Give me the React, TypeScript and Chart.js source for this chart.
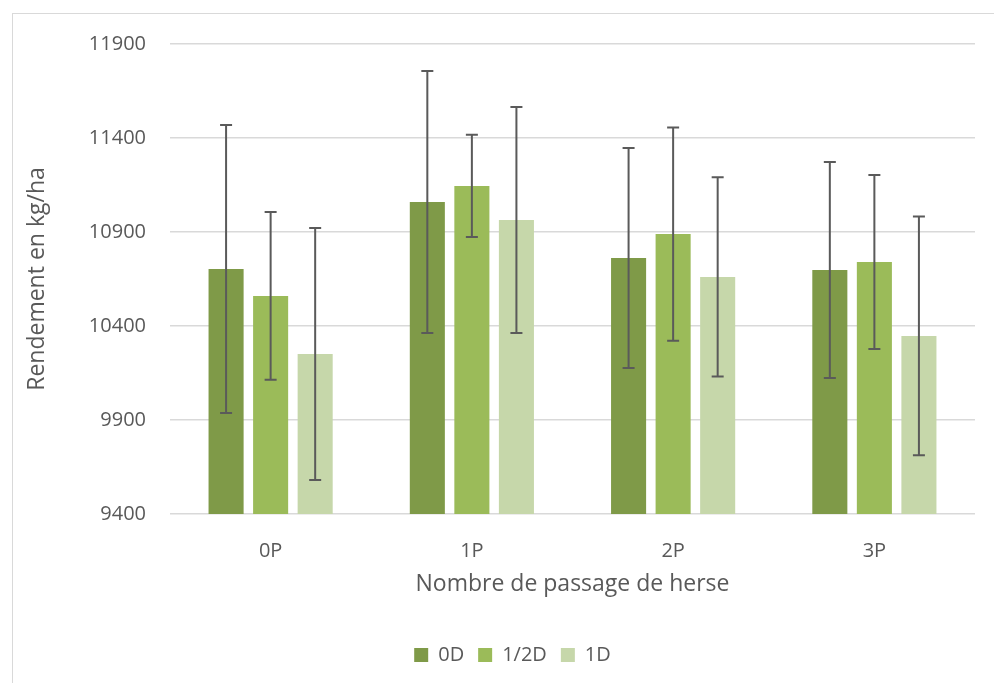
import React, { useEffect, useRef } from "react";
import { Chart, registerables } from "chart.js";

Chart.register(...registerables);

const categories = ["0P", "1P", "2P", "3P"];
const seriesNames = ["0D", "1/2D", "1D"];
const values0D = [10703, 11060, 10762, 10698];
const values12D = [10560, 11145, 10889, 10740];
const values1D = [10251, 10964, 10661, 10347];
const err0D = [766, 697, 585, 575];
const err12D = [446, 272, 567, 463];
const err1D = [670, 601, 530, 635];
const colors = ["#7F9A48", "#9BBB59", "#C6D7AA"];
const yTicks = [9400, 9900, 10400, 10900, 11400, 11900];

const FONT = "'Open Sans', 'Noto Sans', sans-serif";

const errorBarPlugin = {
  id: "errorBars",
  afterLayout(chart: any) {
    const lg = chart.legend;
    if (lg) {
      lg.left += 19;
      lg.right += 19;
    }
  },
  afterDatasetsDraw(chart: any) {
    const ctx = chart.ctx;
    const yScale = chart.scales.y;
    chart.data.datasets.forEach((ds: any, di: number) => {
      const meta = chart.getDatasetMeta(di);
      meta.data.forEach((bar: any, i: number) => {
        const v = ds.data[i];
        const e = ds.errors[i];
        const yTop = yScale.getPixelForValue(v + e);
        const yBot = yScale.getPixelForValue(v - e);
        const x = bar.x;
        ctx.save();
        ctx.strokeStyle = "#5A5A5A";
        ctx.lineWidth = 2;
        ctx.beginPath();
        ctx.moveTo(x, yTop);
        ctx.lineTo(x, yBot);
        ctx.moveTo(x - 6, yTop);
        ctx.lineTo(x + 6, yTop);
        ctx.moveTo(x - 6, yBot);
        ctx.lineTo(x + 6, yBot);
        ctx.stroke();
        ctx.restore();
      });
    });
  },
};

export default function App() {
  const ref = useRef<HTMLCanvasElement>(null);
  useEffect(() => {
    if (!ref.current) return;
    const errs = [err0D, err12D, err1D];
    const vals = [values0D, values12D, values1D];
    const chart = new Chart(ref.current, {
      type: "bar",
      data: {
        labels: categories,
        datasets: seriesNames.map((name, i) => ({
          label: name,
          data: vals[i],
          errors: errs[i],
          backgroundColor: colors[i],
          borderWidth: 0,
          categoryPercentage: 0.664,
          barPercentage: 0.787,
        })) as any,
      },
      options: {
        animation: false,
        responsive: false,
        maintainAspectRatio: false,
        layout: { padding: { left: 12, right: 19, top: 44, bottom: 8 } },
        plugins: {
          legend: {
            position: "bottom",
            labels: {
              boxWidth: 14,
              boxHeight: 14,
              color: "#595959",
              font: { family: FONT, size: 20 },
              padding: 14,
            },
          },
          tooltip: { enabled: false },
        },
        scales: {
          x: {
            grid: { display: false, drawTicks: false },
            border: { display: false },
            ticks: { color: "#595959", font: { family: FONT, size: 20 }, padding: 25 },
            title: {
              display: true,
              text: "Nombre de passage de herse",
              color: "#595959",
              font: { family: FONT, size: 23 },
              padding: { top: 0, bottom: 33 },
            },
            afterFit: (s: any) => {
              s.height = 117;
            },
          },
          y: {
            min: 9400,
            max: 11900,
            afterBuildTicks: (s: any) => {
              s.ticks = yTicks.map((v) => ({ value: v }));
            },
            grid: { color: "#D9D9D9", lineWidth: 1.5, drawTicks: false },
            border: { display: false },
            ticks: {
              color: "#595959",
              font: { family: FONT, size: 20 },
              padding: 24,
              callback: (v: any) => String(v),
            },
            title: {
              display: true,
              text: "Rendement en kg/ha",
              color: "#595959",
              font: { family: FONT, size: 23 },
              padding: { top: 12, bottom: 0 },
            },
            afterFit: (s: any) => {
              s.width = 158;
            },
          },
        },
      },
      plugins: [errorBarPlugin],
    });
    return () => chart.destroy();
  }, []);
  return (
    <div style={{ position: "fixed", left: 0, top: 0, width: 994, height: 683, background: "#fff" }}>
      <div
        style={{
          position: "absolute",
          left: 12,
          top: 13,
          width: 1000,
          height: 700,
          border: "1.5px solid #D9D9D9",
          boxSizing: "border-box",
        }}
      />
      <canvas ref={ref} width={994} height={683} style={{ position: "absolute", left: 0, top: 0 }} />
    </div>
  );
}
